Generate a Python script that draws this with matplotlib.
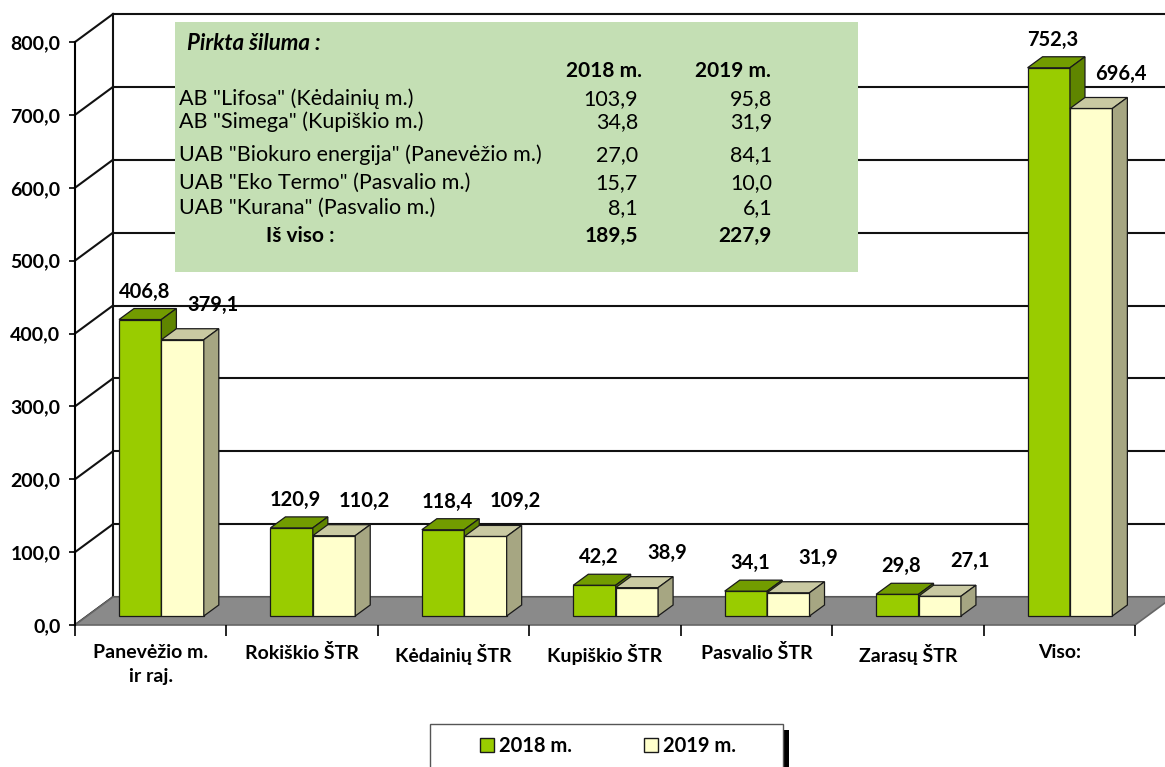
import matplotlib.pyplot as plt
from matplotlib.patches import Polygon, Rectangle, Patch
from matplotlib.ticker import FuncFormatter
import numpy as np

plt.rcParams['font.family'] = ['Lato', 'DejaVu Sans']

# chart data
categories = ['Panevėžio m.\nir raj.', 'Rokiškio ŠTR', 'Kėdainių ŠTR', 'Kupiškio ŠTR',
              'Pasvalio ŠTR', 'Zarasų ŠTR', 'Viso:']
heat_2018 = [406.8, 120.9, 118.4, 42.2, 34.1, 29.8, 752.3]
heat_2019 = [379.1, 110.2, 109.2, 38.9, 31.9, 27.1, 696.4]
series_names = ['2018 m.', '2019 m.']

# purchased heat table
table_title = 'Pirkta šiluma :'
suppliers = ['AB "Lifosa" (Kėdainių m.)', 'AB "Simega" (Kupiškio m.)',
             'UAB "Biokuro energija" (Panevėžio m.)', 'UAB "Eko Termo" (Pasvalio m.)',
             'UAB "Kurana" (Pasvalio m.)']
bought_2018 = [103.9, 34.8, 27.0, 15.7, 8.1]
bought_2019 = [95.8, 31.9, 84.1, 10.0, 6.1]
bought_total = [189.5, 227.9]


def fmt(v):
    return f'{v:.1f}'.replace('.', ',')


W, H = 1165, 767


def fx(x):
    return x / W


def fy(y):
    return 1 - y / H


fig = plt.figure(figsize=(W / 100, H / 100), dpi=100)
ax = fig.add_axes([fx(75), fy(625), (1135 - 75) / W, (625 - 42) / H])
ax.set_xlim(-0.5, 6.5)
ax.set_ylim(0, 800)
ax.patch.set_alpha(0)

PX = 1060 / 7      # pixels per category
PY = 583 / 800     # pixels per unit
wdx, wdy = 38 / PX, 28 / PY   # wall depth
bdx, bdy = 15 / PX, 11 / PY   # bar depth
base = 9 / PY                 # bars stand a bit back on the floor
bw = 0.28

# walls and grid
ticks = np.arange(0, 801, 100)
for v in ticks:
    ax.plot([-0.5, -0.5 + wdx], [v, v + wdy], color='#111111', lw=1.5, clip_on=False, zorder=0.5)
    ax.plot([-0.5 + wdx, 7.5], [v + wdy, v + wdy], color='#111111', lw=1.5, clip_on=False, zorder=0.5)
ax.plot([-0.5 + wdx] * 2, [wdy, 800 + wdy], color='#111111', lw=1.5, clip_on=False, zorder=0.5)

# floor
floor = Polygon([(-0.5, 0), (6.5, 0), (6.5 + wdx, wdy), (-0.5 + wdx, wdy)],
                closed=True, facecolor='#8a8a8a', edgecolor='#666666', lw=1.2, clip_on=False, zorder=1)
ax.add_patch(floor)

# bars with 3d faces
x = np.arange(len(categories))
styles = [('#99cc00', '#729c00', '#5f8500'), ('#ffffcc', '#c9c9a2', '#a6a682')]
left0 = x - 0.5 + 44 / PX
for s, (vals, (cf, ct, cs)) in enumerate(zip([heat_2018, heat_2019], styles)):
    left = left0 + s * bw
    ax.bar(left, vals, width=bw, bottom=base, align='edge', color=cf,
           edgecolor='#1a1a1a', lw=0.9, zorder=3 + s, label=series_names[s])
    for l, v in zip(left, vals):
        top = base + v
        r = l + bw
        ax.add_patch(Polygon([(l, top), (r, top), (r + bdx, top + bdy), (l + bdx, top + bdy)],
                             facecolor=ct, edgecolor='#1a1a1a', lw=0.9, zorder=3 + s))
        ax.add_patch(Polygon([(r, base), (r + bdx, base + bdy), (r + bdx, top + bdy), (r, top)],
                             facecolor=cs, edgecolor='#1a1a1a', lw=0.9, zorder=3 + s))
        off = (4, 17) if s == 0 else (30, 24)
        ax.annotate(fmt(v), xy=(l + bw / 2, top + bdy), xytext=off, textcoords='offset pixels',
                    ha='center', va='center', fontsize=14.5, fontweight='bold', zorder=6)

# axes
for side in ['top', 'right', 'bottom']:
    ax.spines[side].set_visible(False)
ax.spines['left'].set_linewidth(1.5)
ax.set_yticks(ticks)
ax.yaxis.set_major_formatter(FuncFormatter(lambda v, p: fmt(v)))
ax.tick_params(axis='y', direction='out', length=4.5, width=1.2, pad=6, labelsize=14)
for t in ax.get_yticklabels():
    t.set_fontweight('bold')

ax.set_xticks(x)
ax.set_xticklabels(categories, fontsize=14, fontweight='bold')
ax.set_xticks(np.arange(-0.5, 7), minor=True)
ax.tick_params(axis='x', which='major', length=0, pad=14)
ax.tick_params(axis='x', which='minor', direction='out', length=8, width=1.2)
for t in ax.get_xticklabels():
    t.set_linespacing(1.5)

# table box
fig.add_artist(Rectangle((fx(175), fy(272)), (858 - 175) / W, (272 - 22) / H,
                         transform=fig.transFigure, facecolor='#c4dfb4', edgecolor='none'))
fig.text(fx(187), fy(44), table_title, fontsize=16, fontweight='bold', style='italic', va='center')
fig.text(fx(604), fy(71), series_names[0], fontsize=15, fontweight='bold', ha='center', va='center')
fig.text(fx(733), fy(71), series_names[1], fontsize=15, fontweight='bold', ha='center', va='center')
row_y = [99, 122, 155, 183, 208]
for name, a, b, yy in zip(suppliers, bought_2018, bought_2019, row_y):
    fig.text(fx(179), fy(yy), name, fontsize=15.5, va='center')
    fig.text(fx(638), fy(yy), fmt(a), fontsize=15.5, ha='right', va='center')
    fig.text(fx(772), fy(yy), fmt(b), fontsize=15.5, ha='right', va='center')
fig.text(fx(300), fy(236), 'Iš viso :', fontsize=15, fontweight='bold', ha='center', va='center')
fig.text(fx(638), fy(236), fmt(bought_total[0]), fontsize=15, fontweight='bold', ha='right', va='center')
fig.text(fx(772), fy(236), fmt(bought_total[1]), fontsize=15, fontweight='bold', ha='right', va='center')

# legend
fig.add_artist(Rectangle((fx(783), fy(770)), 6 / W, 40 / H, transform=fig.transFigure,
                         facecolor='black', edgecolor='none'))
fig.add_artist(Rectangle((fx(430), fy(770)), (783 - 430) / W, 46 / H, transform=fig.transFigure,
                         facecolor='white', edgecolor='#555555', lw=1))
handles = [Patch(facecolor=c[0], edgecolor='#1a1a1a', lw=1) for c in styles]
fig.legend(handles, series_names, loc='center', bbox_to_anchor=(fx(608), fy(746)), ncol=2,
           frameon=False, handlelength=0.7, handleheight=0.7, handletextpad=0.25,
           columnspacing=3.6, prop={'size': 14.5, 'weight': 'bold'})

fig.savefig('out.png', dpi=100)
